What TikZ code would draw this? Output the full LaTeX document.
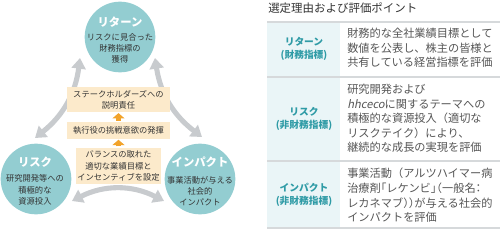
\documentclass[tikz,border=0pt]{standalone}
\usepackage{fontspec}
\setmainfont{Noto Sans CJK JP}
\newfontfamily\hhit{Noto Sans CJK JP}[FakeSlant=0.2]
\newfontfamily\hw{Noto Sans CJK JP}[RawFeature=+halt]
\usetikzlibrary{arrows.meta}
\definecolor{circfill}{HTML}{93CDD1}
\definecolor{garrow}{HTML}{C8CBCE}
\definecolor{boxfill}{HTML}{FCEACB}
\definecolor{oarrow}{HTML}{F2A32A}
\definecolor{tabfill}{HTML}{EAF5F7}
\definecolor{tabline}{HTML}{D6D9DB}
\definecolor{labteal}{HTML}{2F9BA6}
\definecolor{bodygray}{HTML}{555555}
\definecolor{darktext}{HTML}{333333}
\tikzset{
  circ/.style={circle, fill=circfill, minimum size=53pt, inner sep=0pt},
  ctitle/.style={text=white, font=\bfseries\fontsize{8.5}{9}\selectfont, inner sep=0pt},
  cbody/.style={text=darktext, align=center, font=\fontsize{6.2}{8.4}\selectfont, inner sep=0pt},
  bbox/.style={fill=boxfill, text=darktext, align=center, font=\fontsize{6.2}{8.3}\selectfont, inner sep=0pt},
  garr/.style={draw=garrow, line width=3.8pt, arrows={Triangle[width=10.5pt,length=8pt]-Triangle[width=10.5pt,length=8pt]}},
  oarr/.style={draw=oarrow, line width=3.6pt, -{Triangle[width=9pt,length=4pt]}, shorten <=1pt, shorten >=0.5pt},
  ttitle/.style={text=darktext, font=\fontsize{8.6}{10}\selectfont, inner sep=0pt, anchor=west},
  tlab/.style={text=labteal, align=center, font=\bfseries\fontsize{7.3}{9.8}\selectfont, inner sep=0pt},
  tbody/.style={text=bodygray, align=left, font=\fontsize{8.4}{11}\selectfont, inner sep=0pt, anchor=west},
  tline/.style={draw=tabline, line width=1.5pt}
}
\begin{document}
\begin{tikzpicture}[x=0.75pt,y=-0.75pt]
\useasboundingbox (0,0) rectangle (500,229);
% circles
\node[circ] (ret) at (120,37) {};
\node[circ] (risk) at (36,179) {};
\node[circ] (imp) at (200,179) {};
\node[ctitle] (rett) at (120,22) {リターン};
\node[cbody] (retb) at (120,48.5) {リスクに見合った\\財務指標の\\獲得};
\node[ctitle] (riskt) at (35,162) {リスク};
\node[cbody] (riskb) at (35,190) {研究開発等への\\積極的な\\資源投入};
\node[ctitle] (impt) at (200,162) {インパクト};
\node[cbody] (impb) at (200,191) {事業活動が与える\\社会的\\インパクト};
% gray cycle arrows
\coordinate (l1) at (35,138);
\coordinate (l2) at (80,58);
\coordinate (r1) at (155,58);
\coordinate (r2) at (202,137);
\coordinate (d1) at (72,201);
\coordinate (d2) at (164,201);
\draw[garr] (l1) to[bend right=22] (l2);
\draw[garr] (r1) to[bend right=22] (r2);
\draw[garr] (d1) to[bend left=27] (d2);
% central boxes
\node[bbox, minimum width=77pt, minimum height=19pt] (b1) at (118.5,99.5) {ステークホルダーズへの\\説明責任};
\node[bbox, minimum width=77pt, minimum height=12.5pt] (b2) at (118.5,130.5) {執行役の挑戦意欲の発揮};
\node[bbox, minimum width=64pt, minimum height=27pt] (b3) at (118.5,166) {バランスの取れた\\適切な業績目標と\\インセンティブを設定};
\draw[oarr] (b2.north) -- (b1.south);
\draw[oarr] (b3.north) -- (b2.south);
% table
\node[ttitle] (title) at (268,8.5) {選定理由および評価ポイント};
\fill[tabfill] (267,22) rectangle (340,228);
\draw[tline] (267,22) -- (500,22);
\draw[tline] (267,77) -- (500,77);
\draw[tline] (267,161) -- (500,161);
\draw[tline] (267,228) -- (500,228);
\node[tlab] (lab1) at (304,48.5) {リターン\\(財務指標)};
\node[tlab] (lab2) at (304,118.5) {リスク\\(非財務指標)};
\node[tlab] (lab3) at (304,195) {インパクト\\(非財務指標)};
\node[tbody] (t1) at (347,48) {財務的な全社業績目標として\\数値を公表し、株主の皆様と\\共有している経営指標を評価};
\node[tbody, font=\fontsize{8.4}{10.8}\selectfont] (t2) at (347,118.5) {研究開発および\\{\hhit hhceco}に関するテーマへの\\積極的な資源投入（適切な\\リスクテイク）により、\\継続的な成長の実現を評価};
\node[tbody] (t3) at (347,195.5) {事業活動（アルツハイマー病\\治療剤{\hw 「}レケンビ{\hw 」（}一般名{\hw ：}\\レカネマブ{\hw ））}が与える社会的\\インパクトを評価};
\end{tikzpicture}
\end{document}
